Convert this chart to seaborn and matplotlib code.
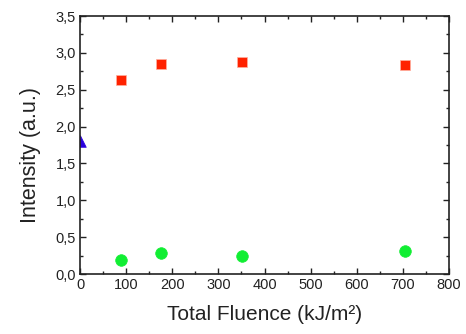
import matplotlib
matplotlib.use("Agg")
import matplotlib.pyplot as plt
import matplotlib.ticker as mticker
import seaborn as sns
import pandas as pd

# values
fluence_red = [88, 176, 352, 704]
intensity_red = [2.63, 2.85, 2.87, 2.84]
fluence_green = [88, 176, 352, 704]
intensity_green = [0.19, 0.28, 0.25, 0.31]
fluence_blue = [0]
intensity_blue = [1.80]

sns.set_style("ticks")
plt.rcParams['font.family'] = ['Liberation Sans', 'DejaVu Sans']

fig = plt.figure(figsize=(4.66, 3.34), dpi=100)
ax = fig.add_axes([0.1717, 0.1796, 0.7918, 0.7724])

red = pd.DataFrame({'x': fluence_red, 'y': intensity_red})
green = pd.DataFrame({'x': fluence_green, 'y': intensity_green})
blue = pd.DataFrame({'x': fluence_blue, 'y': intensity_blue})

sns.scatterplot(data=red, x='x', y='y', ax=ax, marker='s', s=58, color='#ff2200',
                edgecolor='#ffb0a0', linewidth=0.5)
sns.scatterplot(data=green, x='x', y='y', ax=ax, marker='o', s=70, color='#11ee33',
                edgecolor='#11ee33', linewidth=0.5)
sns.scatterplot(data=blue, x='x', y='y', ax=ax, marker='^', s=70, color='#2a00dd',
                edgecolor='#2a00dd', linewidth=0.5)

ax.set_xlim(0, 800)
ax.set_ylim(0, 3.5)
ax.xaxis.set_major_locator(mticker.MultipleLocator(100))
ax.xaxis.set_minor_locator(mticker.MultipleLocator(50))
ax.yaxis.set_major_locator(mticker.MultipleLocator(0.5))
ax.yaxis.set_minor_locator(mticker.MultipleLocator(0.25))
ax.yaxis.set_major_formatter(mticker.FuncFormatter(lambda v, p: f"{v:.1f}".replace('.', ',')))

ax.tick_params(which='both', direction='in', top=True, right=True, color='#222222')
ax.tick_params(which='major', length=4, width=1, labelsize=10.5, labelcolor='#222222', pad=3)
ax.tick_params(which='minor', length=2.5, width=1)
for sp in ax.spines.values():
    sp.set_visible(True)
    sp.set_linewidth(1.2)
    sp.set_color('#222222')

ax.set_xlabel('Total Fluence (kJ/m²)', fontsize=15, color='#222222', labelpad=9)
ax.set_ylabel('Intensity (a.u.)', fontsize=15.5, color='#222222')
ax.yaxis.set_label_coords(-0.107, 0.46)

fig.savefig('out.png', dpi=100)
